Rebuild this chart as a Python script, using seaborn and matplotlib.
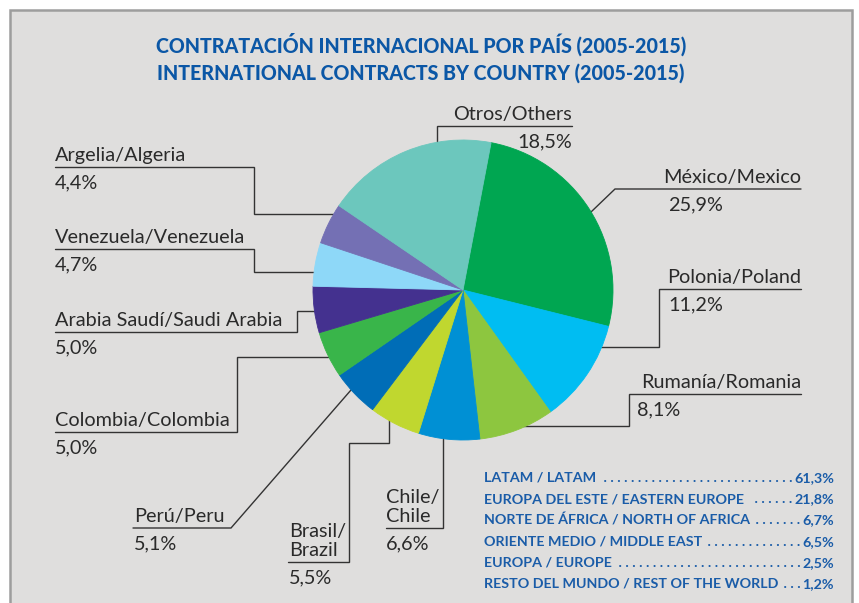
import matplotlib
matplotlib.use("Agg")
import matplotlib.pyplot as plt
import seaborn as sns
from matplotlib.patches import Rectangle

# ---------------- data ----------------
countries = ["México/Mexico", "Polonia/Poland", "Rumanía/Romania", "Chile/\nChile",
             "Brasil/\nBrazil", "Perú/Peru", "Colombia/Colombia",
             "Arabia Saudí/Saudi Arabia", "Venezuela/Venezuela", "Argelia/Algeria",
             "Otros/Others"]
shares = [25.9, 11.2, 8.1, 6.6, 5.5, 5.1, 5.0, 5.0, 4.7, 4.4, 18.5]
colors = ["#00a651", "#00bdf2", "#8dc63f", "#0090d4", "#c0d72f", "#006db7",
          "#39b54a", "#44318f", "#8ed8f8", "#7470b4", "#6cc7bd"]
regions = ["LATAM / LATAM", "EUROPA DEL ESTE / EASTERN EUROPE",
           "NORTE DE ÁFRICA / NORTH OF AFRICA", "ORIENTE MEDIO / MIDDLE EAST",
           "EUROPA / EUROPE", "RESTO DEL MUNDO / REST OF THE WORLD"]
region_shares = [61.3, 21.8, 6.7, 6.5, 2.5, 1.2]
title_lines = ["CONTRATACIÓN INTERNACIONAL POR PAÍS (2005-2015)",
               "INTERNATIONAL CONTRACTS BY COUNTRY (2005-2015)"]

def pct(v):
    return f"{v:.1f}".replace(".", ",") + "%"

# ---------------- style ----------------
sns.set_theme(style="white")
plt.rcParams["font.family"] = ["Lato", "DejaVu Sans"]
palette = sns.color_palette(colors)

W, H = 859, 603
fig = plt.figure(figsize=(W / 100, H / 100), dpi=100)
fig.patch.set_facecolor("white")
renderer = fig.canvas.get_renderer()

# overlay axes in pixel coordinates (top-left origin)
ov = fig.add_axes([0, 0, 1, 1])
ov.set_xlim(0, W)
ov.set_ylim(H, 0)
ov.axis("off")

BG = "#dfdedd"
ov.add_patch(Rectangle((10, 10), 842, 620, facecolor=BG, edgecolor="#9d9d9d",
                       linewidth=1.8, zorder=0, clip_on=False))

# pie axes: centre (463, 290), radius 150 px
cx, cy, R = 463, 290, 150
pax = fig.add_axes([(cx - R) / W, (H - cy - R) / H, 2 * R / W, 2 * R / H])
wedges, _ = pax.pie(shares, colors=palette, startangle=79.2, counterclock=False,
                    radius=1, wedgeprops=dict(linewidth=0.6))
for w in wedges:
    w.set_edgecolor(w.get_facecolor())
pax.set_xlim(-1, 1)
pax.set_ylim(-1, 1)
pax.set_aspect("equal")
pax.axis("off")

# ---------------- labels & leader lines ----------------
TXT = "#2a2a2a"
LINE = "#333333"
FS = 14.3
# (label anchor x, label ha, percent x, percent ha, underline y, leader path)
layout = [
    (801, "right", 668, "left", 189, [(801, 189), (615, 189), (591, 212)]),
    (801, "right", 668, "left", 289, [(801, 289), (659, 289), (659, 347), (601, 347)]),
    (801, "right", 637, "left", 394, [(801, 394), (629, 394), (629, 426), (523, 426)]),
    (386, "left", 386, "left", 528, [(386, 528), (443, 528), (443, 437)]),
    (289, "left", 289, "left", 562, [(288, 562), (349, 562), (349, 443), (389, 443), (389, 417)]),
    (134, "left", 134, "left", 528, [(133, 528), (231, 528), (351, 390)]),
    (55, "left", 55, "left", 432, [(55, 432), (237, 432), (237, 357), (328, 357)]),
    (55, "left", 55, "left", 332, [(55, 332), (297, 332), (297, 311), (315, 311)]),
    (55, "left", 55, "left", 249, [(55, 249), (254, 249), (254, 272), (315, 272)]),
    (55, "left", 55, "left", 167, [(55, 167), (254, 167), (254, 214), (335, 214)]),
    (572, "right", 572, "right", 126, [(572, 126), (437, 126), (437, 142)]),
]
for name, v, (lx, ha, px, pha, ly, path) in zip(countries, shares, layout):
    xs, ys = zip(*path)
    ov.plot(xs, ys, color=LINE, lw=1.0, solid_joinstyle="miter", zorder=1)
    ov.text(lx, ly - 6, name, ha=ha, va="baseline", fontsize=FS, color=TXT,
            linespacing=1.15, zorder=3)
    ov.text(px, ly + 21, pct(v), ha=pha, va="baseline", fontsize=FS, color=TXT, zorder=3)

def fit(t, target, base):
    w = t.get_window_extent(renderer).width
    t.set_fontsize(base * target / w)

# ---------------- title ----------------
BLUE = "#0b57a6"
TFONT = ["Lato", "DejaVu Sans"]
for i, line in enumerate(title_lines):
    t = ov.text(421, 53 + i * 27, line, ha="center", va="baseline", fontsize=16,
                fontweight="black", color=BLUE, family=TFONT)
    fit(t, 531 if i == 0 else 528, 16)

# ---------------- region table ----------------
TBLUE = "#1a5ca8"
probe = ov.text(0, 0, regions[-1], fontsize=11, fontweight="bold", family=TFONT)
tfs = 11 * 296 / probe.get_window_extent(renderer).width
probe.remove()
tkw = dict(va="baseline", fontsize=tfs, fontweight="bold", color=TBLUE, family=TFONT)
probe = ov.text(0, 0, ". " * 10, **tkw)
dot_w = probe.get_window_extent(renderer).width / 10
probe.remove()
for i, (name, v) in enumerate(zip(regions, region_shares)):
    y = 482 + i * 21.2
    t1 = ov.text(484, y, name, ha="left", **tkw)
    t2 = ov.text(834, y, pct(v), ha="right", **tkw)
    b1 = t1.get_window_extent(renderer)
    b2 = t2.get_window_extent(renderer)
    n = int((b2.x0 - b1.x1 - 3) / dot_w)
    ov.text(b2.x0 - 2, y, (" ." * max(n, 0)), ha="right", **tkw)

fig.savefig("out.png", dpi=100, facecolor="white")
